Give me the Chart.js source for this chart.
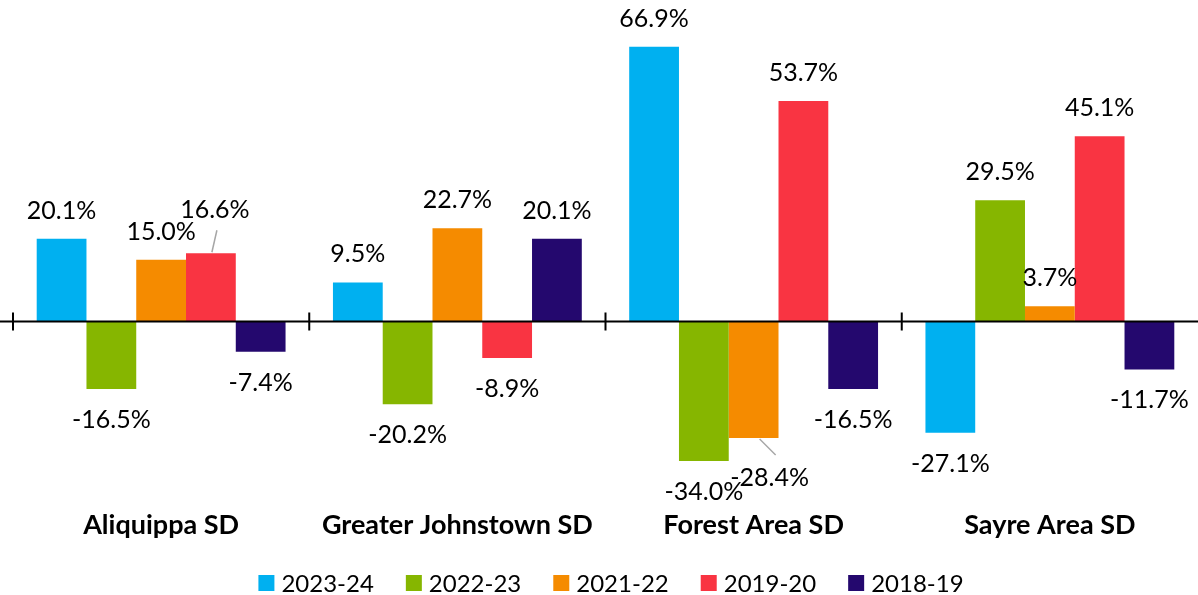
<!DOCTYPE html>
<html>
<head>
<meta charset="utf-8">
<script src="https://cdn.jsdelivr.net/npm/chart.js@4/dist/chart.umd.min.js"></script>
<style>
  html, body { margin: 0; padding: 0; background: #fff; }
  #wrap { width: 1198px; height: 595px; }
</style>
</head>
<body>
<div id="wrap"><canvas id="grafico"></canvas></div>
<script>
const distritos = ["Aliquippa SD", "Greater Johnstown SD", "Forest Area SD", "Sayre Area SD"];
const anos = ["2023-24", "2022-23", "2021-22", "2019-20", "2018-19"];
const v2023 = [20.1, 9.5, 66.9, -27.1];
const v2022 = [-16.5, -20.2, -34.0, 29.5];
const v2021 = [15.0, 22.7, -28.4, 3.7];
const v2019 = [16.6, -8.9, 53.7, 45.1];
const v2018 = [-7.4, 20.1, -16.5, -11.7];
const cores = ["#00B0F0", "#86B600", "#F58B00", "#F93442", "#24086E"];

// label nudges (dataset, index) -> pixel offset, with leader line
const ajustes = {
  "3-0": { dx: 4, dy: -15 },
  "2-2": { dx: 16, dy: 9 }
};

const fonte = "Lato, 'Open Sans', sans-serif";

const rotulos = {
  id: "rotulos",
  afterDatasetsDraw(chart) {
    const ctx = chart.ctx;
    ctx.save();
    ctx.font = `25px ${fonte}`;
    ctx.fillStyle = "#000";
    ctx.textAlign = "center";
    ctx.textBaseline = "middle";
    chart.data.datasets.forEach((ds, di) => {
      chart.getDatasetMeta(di).data.forEach((bar, i) => {
        const v = ds.data[i];
        let x = bar.x;
        let y = v >= 0 ? bar.y - 28 : bar.y + 31;
        const aj = ajustes[di + "-" + i];
        if (aj) {
          x += aj.dx; y += aj.dy;
          ctx.strokeStyle = "#A6A6A6";
          ctx.lineWidth = 1.5;
          ctx.beginPath();
          if (v >= 0) {
            ctx.moveTo(bar.x + 1, bar.y - 1);
            ctx.lineTo(bar.x + 6, bar.y - 23);
          } else {
            ctx.moveTo(bar.x + 6, bar.y + 1);
            ctx.lineTo(bar.x + 22, bar.y + 17);
          }
          ctx.stroke();
        }
        ctx.fillText(v.toFixed(1) + "%", x, y);
      });
    });
    ctx.restore();
  }
};

const eixoZero = {
  id: "eixoZero",
  afterDatasetsDraw(chart) {
    const ctx = chart.ctx;
    const xs = chart.scales.x, ys = chart.scales.y;
    const y0 = ys.getPixelForValue(0);
    const w = (xs.right - xs.left) / distritos.length;
    ctx.save();
    ctx.strokeStyle = "#000";
    ctx.lineWidth = 2;
    ctx.beginPath();
    ctx.moveTo(0, y0);
    ctx.lineTo(chart.width, y0);
    for (let i = 0; i < distritos.length; i++) {
      const x = xs.left + i * w;
      ctx.moveTo(x, y0 - 9);
      ctx.lineTo(x, y0 + 9);
    }
    ctx.stroke();
    ctx.restore();
  }
};

// legenda desenhada à mão para controlar espaçamento
const legenda = {
  id: "legenda",
  afterDraw(chart) {
    const ctx = chart.ctx;
    ctx.save();
    ctx.font = `24px ${fonte}`;
    ctx.textBaseline = "middle";
    const caixa = 16, gap = 7, entre = 32, yc = 583;
    const larguras = chart.data.datasets.map(ds => ctx.measureText(ds.label).width);
    const total = larguras.reduce((s, w) => s + caixa + gap + w, 0) + entre * (larguras.length - 1);
    let x = 611 - total / 2;
    chart.data.datasets.forEach((ds, k) => {
      ctx.fillStyle = ds.backgroundColor;
      ctx.fillRect(x, yc - caixa / 2, caixa, caixa);
      ctx.fillStyle = "#000";
      ctx.fillText(ds.label, x + caixa + gap, yc + 1);
      x += caixa + gap + larguras[k] + entre;
    });
    ctx.restore();
  }
};

const series = [v2023, v2022, v2021, v2019, v2018];

new Chart(document.getElementById("grafico"), {
  type: "bar",
  data: {
    labels: distritos,
    datasets: anos.map((a, k) => ({
      label: a,
      data: series[k],
      backgroundColor: cores[k],
      categoryPercentage: 0.84,
      barPercentage: 1
    }))
  },
  options: {
    responsive: true,
    maintainAspectRatio: false,
    animation: false,
    layout: { padding: { left: 13, right: -6, top: 34, bottom: 39 } },
    scales: {
      x: {
        grid: { display: false },
        border: { display: false },
        ticks: {
          color: "#000",
          font: { family: fonte, size: 27, weight: "bold" },
          padding: 15
        }
      },
      y: {
        display: false,
        min: -40,
        max: 70
      }
    },
    plugins: {
      legend: { display: false },
      tooltip: { enabled: false }
    }
  },
  plugins: [rotulos, eixoZero, legenda]
});
</script>
</body>
</html>
